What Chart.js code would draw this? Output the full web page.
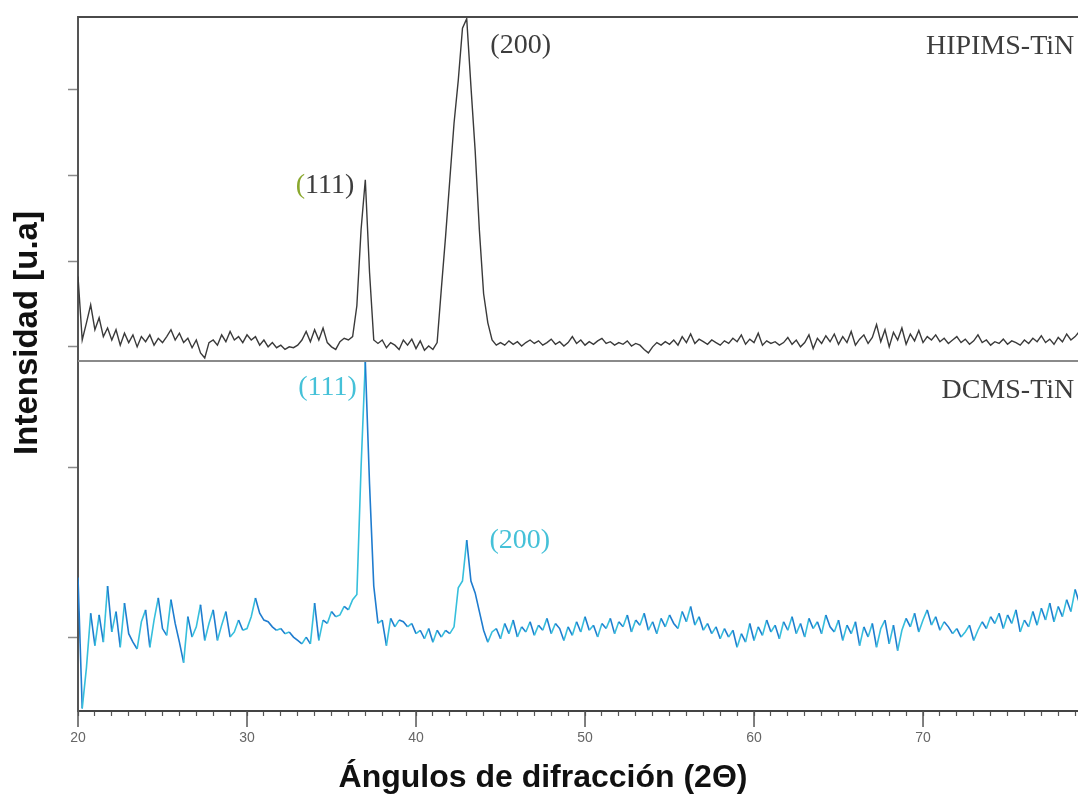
<!DOCTYPE html>
<html>
<head>
<meta charset="utf-8">
<script src="https://cdn.jsdelivr.net/npm/chart.js@4.4.1/dist/chart.umd.min.js"></script>
<style>
  html, body { margin: 0; padding: 0; background: #fff; }
  #wrap { width: 1078px; height: 801px; }
</style>
</head>
<body>
<div id="wrap"><canvas id="xrd" width="1078" height="801"></canvas></div>
<script>
// scan angles (2θ), 0.25° step
const angles = [
  20,20.25,20.5,20.75,21,21.25,21.5,21.75,22,22.25,22.5,22.75,23,23.25,23.5,23.75,
  24,24.25,24.5,24.75,25,25.25,25.5,25.75,26,26.25,26.5,26.75,27,27.25,27.5,27.75,
  28,28.25,28.5,28.75,29,29.25,29.5,29.75,30,30.25,30.5,30.75,31,31.25,31.5,31.75,
  32,32.25,32.5,32.75,33,33.25,33.5,33.75,34,34.25,34.5,34.75,35,35.25,35.5,35.75,
  36,36.25,36.5,36.75,37,37.25,37.5,37.75,38,38.25,38.5,38.75,39,39.25,39.5,39.75,
  40,40.25,40.5,40.75,41,41.25,41.5,41.75,42,42.25,42.5,42.75,43,43.25,43.5,43.75,
  44,44.25,44.5,44.75,45,45.25,45.5,45.75,46,46.25,46.5,46.75,47,47.25,47.5,47.75,
  48,48.25,48.5,48.75,49,49.25,49.5,49.75,50,50.25,50.5,50.75,51,51.25,51.5,51.75,
  52,52.25,52.5,52.75,53,53.25,53.5,53.75,54,54.25,54.5,54.75,55,55.25,55.5,55.75,
  56,56.25,56.5,56.75,57,57.25,57.5,57.75,58,58.25,58.5,58.75,59,59.25,59.5,59.75,
  60,60.25,60.5,60.75,61,61.25,61.5,61.75,62,62.25,62.5,62.75,63,63.25,63.5,63.75,
  64,64.25,64.5,64.75,65,65.25,65.5,65.75,66,66.25,66.5,66.75,67,67.25,67.5,67.75,
  68,68.25,68.5,68.75,69,69.25,69.5,69.75,70,70.25,70.5,70.75,71,71.25,71.5,71.75,
  72,72.25,72.5,72.75,73,73.25,73.5,73.75,74,74.25,74.5,74.75,75,75.25,75.5,75.75,
  76,76.25,76.5,76.75,77,77.25,77.5,77.75,78,78.25,78.5,78.75,79,79.25
];

// HIPIMS-TiN intensity (top panel, arbitrary units)
const hipims = [
  0.82,0.08,0.28,0.49,0.2,0.34,0.12,0.22, 0.08,0.2,0.02,0.16,0.05,0.14,0.0,0.12,
  0.06,0.14,0.02,0.1,0.05,0.12,0.2,0.08, 0.16,0.05,0.1,-0.01,0.08,-0.07,-0.13,0.05,
  0.08,0.02,0.14,0.06,0.18,0.08,0.12,0.05, 0.14,0.08,0.12,0.02,0.08,0.0,0.05,-0.01,
  0.02,-0.03,0.0,-0.01,0.02,0.08,0.18,0.06, 0.2,0.08,0.22,0.05,0.0,-0.03,0.06,0.1,
  0.08,0.12,0.48,1.37,1.95,0.87,0.08,0.04, 0.08,-0.01,0.05,0.02,-0.03,0.08,0.02,0.09,
  -0.02,0.07,-0.04,0.01,-0.03,0.05,0.68,1.29, 1.95,2.61,3.11,3.72,3.83,3.04,2.29,1.36,
  0.62,0.28,0.08,0.02,
  0.05,0.02,0.07,0.03,0.06,0.01,0.05,0.08, 0.04,0.07,0.02,0.05,0.09,0.03,0.06,0.01,
  0.05,0.12,0.04,0.08,0.02,0.06,0.03,0.07, 0.1,0.04,0.06,0.02,0.05,0.03,0.07,0.01,
  0.04,0.02,-0.03,-0.07,0.0,0.05,0.02,0.06, 0.03,0.08,0.02,0.12,0.05,0.15,0.04,0.09,
  0.06,0.03,0.08,0.05,0.02,0.07,0.04,0.1, 0.06,0.14,0.03,0.09,0.05,0.16,0.02,0.07,
  0.04,0.06,0.02,0.05,0.11,0.03,0.08,0.0, 0.05,0.14,-0.02,0.1,0.04,0.13,0.06,0.15,
  0.03,0.12,0.05,0.18,0.02,0.09,0.14,0.04, 0.11,0.26,0.06,0.2,0.0,0.17,0.08,0.22,
  0.03,0.15,0.07,0.19,0.05,0.12,0.08,0.14, 0.06,0.1,0.04,0.08,0.12,0.05,0.09,0.03,
  0.07,0.14,0.05,0.08,0.02,0.06,0.04,0.09, 0.03,0.07,0.05,0.02,0.08,0.04,0.1,0.06,
  0.13,0.05,0.09,0.03,0.11,0.06,0.15,0.08, 0.12,0.18
];

// DCMS-TiN intensity (bottom panel, arbitrary units)
const dcms = [
  0.35,-0.42,-0.18,0.14,-0.05,0.13,-0.03,0.3, 0.03,0.15,-0.06,0.2,0.02,-0.03,-0.07,0.09,
  0.16,-0.06,0.1,0.23,0.05,0.01,0.22,0.08, -0.03,-0.15,0.12,0.0,0.06,0.19,-0.02,0.08,
  0.16,-0.02,0.07,0.15,0.0,0.03,0.1,0.04, 0.05,0.12,0.23,0.14,0.1,0.09,0.06,0.04,
  0.05,0.02,0.03,0.0,-0.02,-0.04,0.0,-0.04, 0.2,-0.02,0.1,0.08,0.15,0.12,0.13,0.18,
  0.16,0.22,0.25,1.0,1.62,0.9,0.3,0.08, 0.1,-0.05,0.11,0.06,0.1,0.09,0.06,0.08,
  0.02,0.04,-0.01,0.05,-0.03,0.04,0.0,0.04, 0.02,0.06,0.29,0.33,0.57,0.33,0.26,0.15,
  0.04,-0.03,0.03,
  0.05,-0.01,0.08,0.02,0.1,0.0,0.06,0.03, 0.09,0.01,0.07,0.04,0.11,0.02,0.08,0.05,
  -0.02,0.06,0.01,0.09,0.03,0.12,0.04,0.07, 0.0,0.08,0.05,0.11,0.02,0.09,0.06,0.13,
  0.03,0.1,0.07,0.14,0.04,0.09,0.02,0.11, 0.06,0.13,0.08,0.05,0.15,0.09,0.18,0.07,
  0.12,0.04,0.08,0.02,0.06,-0.01,0.05,0.0, 0.04,-0.06,0.02,-0.03,0.08,-0.02,0.06,0.01,
  0.1,0.03,0.07,-0.01,0.09,0.04,0.12,0.02, 0.08,0.0,0.11,0.05,0.09,0.02,0.13,0.06,
  0.03,0.1,-0.02,0.07,0.02,0.09,-0.05,0.06, 0.0,0.08,-0.06,0.05,0.1,-0.04,0.07,-0.08,
  0.04,0.11,0.06,0.14,0.03,0.1,0.16,0.07, 0.12,0.04,0.09,0.06,0.02,0.05,0.0,0.03,
  0.07,-0.02,0.04,0.09,0.05,0.12,0.08,0.14, 0.05,0.13,0.08,0.16,0.03,0.1,0.06,0.15,
  0.07,0.17,0.1,0.2,0.09,0.18,0.12,0.22, 0.15,0.28,0.2
];

// x tick labels shown on the axis
const labelledTicks = [20, 30, 40, 50, 60, 70];

// peak / sample labels: [text, x value, y value, axis, colour, align, colour of leading "("]
const notes = [
  ['(200)', 44.4, 3.52, 'yTop', '#3d3d3d', 'left', null],
  ['(111)', 36.35, 1.88, 'yTop', '#3d3d3d', 'right', '#8aa82e'],
  ['HIPIMS-TiN', 78.95, 3.5, 'yTop', '#3d3d3d', 'right', null],
  ['DCMS-TiN', 78.95, 1.45, 'yBot', '#3d3d3d', 'right', null],
  ['(111)', 36.5, 1.47, 'yBot', '#45c1d8', 'right', null],
  ['(200)', 44.35, 0.565, 'yBot', '#45c1d8', 'left', null]
];

function line(ctx, x1, y1, x2, y2){
  ctx.beginPath(); ctx.moveTo(x1, y1); ctx.lineTo(x2, y2); ctx.stroke();
}

// frame lines, long ticks, labels and axis titles
const decorations = {
  id: 'decorations',
  afterDraw(chart){
    const {ctx, chartArea, scales} = chart;
    const xs = scales.x, yT = scales.yTop;
    ctx.save();
    ctx.lineWidth = 2;
    ctx.strokeStyle = '#4a4a4a';
    line(ctx, chartArea.left, yT.top, chartArea.right, yT.top);
    ctx.strokeStyle = '#8a8a8a';
    line(ctx, chartArea.left, yT.bottom, chartArea.right, yT.bottom);

    ctx.strokeStyle = '#555';
    ctx.lineWidth = 1.5;
    labelledTicks.forEach(v => {
      const px = xs.getPixelForValue(v);
      line(ctx, px, xs.top, px, xs.top + 16);
    });

    ctx.font = '28px "Liberation Serif", "Times New Roman", serif';
    ctx.textBaseline = 'middle';
    notes.forEach(([text, xv, yv, axis, color, align, lead]) => {
      const px = xs.getPixelForValue(xv), py = scales[axis].getPixelForValue(yv);
      ctx.textAlign = align;
      if (lead) {
        // first parenthesis drawn in its own colour
        const rest = text.slice(1);
        ctx.fillStyle = color;
        ctx.textAlign = 'right';
        ctx.fillText(rest, px, py);
        ctx.fillStyle = lead;
        ctx.fillText(text[0], px - ctx.measureText(rest).width, py);
      } else {
        ctx.fillStyle = color;
        ctx.fillText(text, px, py);
      }
    });

    ctx.fillStyle = '#111';
    ctx.font = 'bold 32px "Liberation Sans", Arial, sans-serif';
    ctx.textAlign = 'center';
    ctx.fillText('Ángulos de difracción (2Θ)', 543, 778);
    ctx.translate(28, 333);
    ctx.rotate(-Math.PI / 2);
    ctx.font = 'bold 33px "Liberation Sans", Arial, sans-serif';
    ctx.fillText('Intensidad [u.a]', 0, 0);
    ctx.restore();
  }
};

const yAxisBase = {
  type: 'linear',
  position: 'left',
  stack: 'panels',
  border: { display: true, color: '#555', width: 2 },
  grid: { drawOnChartArea: false, drawTicks: true, tickLength: 10, tickColor: '#8a8a8a', tickWidth: 1.5 },
  ticks: { display: false, stepSize: 1, includeBounds: false },
  afterFit: s => { s.width = 78; s.paddingTop = 0; s.paddingBottom = 0; }
};

new Chart(document.getElementById('xrd'), {
  type: 'line',
  data: {
    datasets: [
      {
        label: 'DCMS-TiN',
        data: angles.map((a, i) => ({ x: a, y: dcms[i] })),
        yAxisID: 'yBot',
        borderColor: '#2a9fdc',
        borderWidth: 1.6,
        pointRadius: 0,
        tension: 0,
        segment: {
          borderColor: c => c.p1.parsed.y >= c.p0.parsed.y ? '#36bfdc' : '#1f7ccf'
        }
      },
      {
        label: 'HIPIMS-TiN',
        data: angles.map((a, i) => ({ x: a, y: hipims[i] })),
        yAxisID: 'yTop',
        borderColor: '#3a3a3a',
        borderWidth: 1.4,
        pointRadius: 0,
        tension: 0
      }
    ]
  },
  options: {
    responsive: false,
    animation: false,
    devicePixelRatio: 1,
    layout: { padding: { top: 17, right: 0, left: 0, bottom: 0 } },
    plugins: { legend: { display: false }, tooltip: { enabled: false } },
    scales: {
      x: {
        type: 'linear',
        min: 20,
        max: 79.17,
        border: { display: true, color: '#444', width: 2 },
        grid: { drawOnChartArea: false, drawTicks: true, tickLength: 5, tickColor: '#555', tickWidth: 1.2 },
        ticks: {
          stepSize: 1,
          autoSkip: false,
          includeBounds: false,
          maxRotation: 0,
          padding: 14,
          color: '#666',
          font: { family: '"Liberation Sans", Arial, sans-serif', size: 14 },
          callback: v => labelledTicks.includes(v) ? String(v) : ''
        },
        afterFit: s => { s.height = 90; s.paddingLeft = 0; s.paddingRight = 0; }
      },
      // bottom panel defined first so the stack puts it below
      yBot: Object.assign({}, yAxisBase, { min: -0.435, max: 1.624, stackWeight: 350 }),
      yTop: Object.assign({}, yAxisBase, { min: -0.165, max: 3.85, stackWeight: 344 })
    }
  },
  plugins: [decorations]
});
</script>
</body>
</html>
